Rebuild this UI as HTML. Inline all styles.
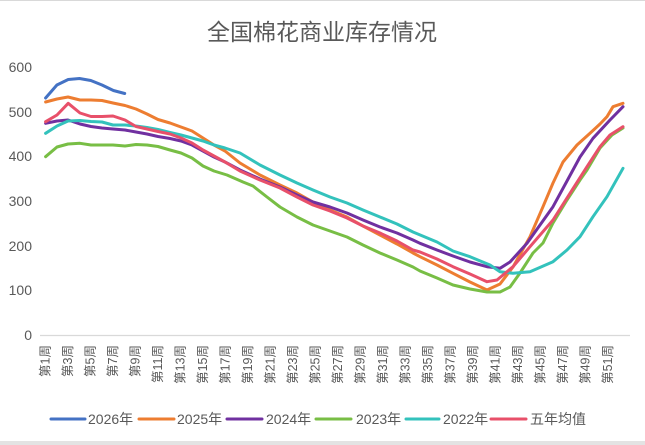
<!DOCTYPE html>
<html>
<head>
<meta charset="utf-8">
<style>
  html, body { margin:0; padding:0; background:#fff; }
  body { width:645px; height:445px; overflow:hidden; }
  svg { display:block; }
  text { font-family: "Liberation Sans", "Noto Sans CJK SC", sans-serif; fill:#595959; }
</style>
</head>
<body>
<svg width="645" height="445" viewBox="0 0 645 445" xmlns="http://www.w3.org/2000/svg">
  <rect x="0" y="0" width="645" height="445" fill="#ffffff"/>
  <line x1="0" y1="0.5" x2="645" y2="0.5" stroke="#d9d9d9" stroke-width="1"/>
  <rect x="0" y="441" width="645" height="4" fill="#e3e3e3"/>

  <!-- Title -->
  <text x="322" y="32" font-size="23" text-anchor="middle" dominant-baseline="central">全国棉花商业库存情况</text>

  <!-- Y axis labels -->
  <g font-size="14" text-anchor="end">
    <text x="32" y="67" dominant-baseline="central">600</text>
    <text x="32" y="112" dominant-baseline="central">500</text>
    <text x="32" y="156" dominant-baseline="central">400</text>
    <text x="32" y="201" dominant-baseline="central">300</text>
    <text x="32" y="246" dominant-baseline="central">200</text>
    <text x="32" y="290" dominant-baseline="central">100</text>
    <text x="32" y="335" dominant-baseline="central">0</text>
  </g>

  <!-- X axis line -->
  <line x1="40" y1="335.5" x2="630" y2="335.5" stroke="#d9d9d9" stroke-width="1.2"/>

  <!-- X labels -->
  <g font-size="12.5" text-anchor="end">
    <text transform="translate(45.5,345) rotate(-90)" dominant-baseline="central">第1周</text>
    <text transform="translate(68,345) rotate(-90)" dominant-baseline="central">第3周</text>
    <text transform="translate(90.5,345) rotate(-90)" dominant-baseline="central">第5周</text>
    <text transform="translate(113,345) rotate(-90)" dominant-baseline="central">第7周</text>
    <text transform="translate(135.5,345) rotate(-90)" dominant-baseline="central">第9周</text>
    <text transform="translate(158,345) rotate(-90)" dominant-baseline="central">第11周</text>
    <text transform="translate(180.5,345) rotate(-90)" dominant-baseline="central">第13周</text>
    <text transform="translate(203,345) rotate(-90)" dominant-baseline="central">第15周</text>
    <text transform="translate(225.5,345) rotate(-90)" dominant-baseline="central">第17周</text>
    <text transform="translate(248,345) rotate(-90)" dominant-baseline="central">第19周</text>
    <text transform="translate(270.5,345) rotate(-90)" dominant-baseline="central">第21周</text>
    <text transform="translate(293,345) rotate(-90)" dominant-baseline="central">第23周</text>
    <text transform="translate(315.5,345) rotate(-90)" dominant-baseline="central">第25周</text>
    <text transform="translate(338,345) rotate(-90)" dominant-baseline="central">第27周</text>
    <text transform="translate(360.5,345) rotate(-90)" dominant-baseline="central">第29周</text>
    <text transform="translate(383,345) rotate(-90)" dominant-baseline="central">第31周</text>
    <text transform="translate(405.5,345) rotate(-90)" dominant-baseline="central">第33周</text>
    <text transform="translate(428,345) rotate(-90)" dominant-baseline="central">第35周</text>
    <text transform="translate(450.5,345) rotate(-90)" dominant-baseline="central">第37周</text>
    <text transform="translate(473,345) rotate(-90)" dominant-baseline="central">第39周</text>
    <text transform="translate(495.5,345) rotate(-90)" dominant-baseline="central">第41周</text>
    <text transform="translate(518,345) rotate(-90)" dominant-baseline="central">第43周</text>
    <text transform="translate(540.5,345) rotate(-90)" dominant-baseline="central">第45周</text>
    <text transform="translate(563,345) rotate(-90)" dominant-baseline="central">第47周</text>
    <text transform="translate(585.5,345) rotate(-90)" dominant-baseline="central">第49周</text>
    <text transform="translate(608,345) rotate(-90)" dominant-baseline="central">第51周</text>
  </g>

  <!-- Series -->
  <g fill="none" stroke-width="3" stroke-linejoin="round" stroke-linecap="round">
    <!-- 2026 -->
    <polyline stroke="#4472C4" points="45.6,98 56.9,85 68.2,79.5 79.5,78.5 90.8,80.5 102,85 113.4,90.5 124.7,93.5"/>
    <!-- 2025 -->
    <polyline stroke="#ED7D31" points="45.6,102 57,99 68,97 80,100 91,100 102,100.5 113,103 125,105.5 136,109 147,114 158,119.5 170,123 181,127 192,131 203,138 214,145 225,151 240,163 260,175 280,185 297,193 313,202 330,210 347,217 363,226 380,235 397,244 413,253 420,256.7 437,265 453,273.3 470,282 487,290 500,284 513,267 530,236.7 543,206.7 553,183 563,162 577,145 590,133.3 600,124 607,116.7 613,106.7 623,103.3"/>
    <!-- 2024 -->
    <polyline stroke="#7030A0" points="45.6,123.3 57,121 68,120 80,124 91,126.5 102,128 113,129 125,130 136,132 147,134 158,136.5 170,138.5 181,141 192,145 203,151 214,157 225,162 240,170 260,179 280,187 297,195 313,202 330,207 347,213 363,220 380,227 397,233 413,240 420,243.3 437,250 453,256 470,262 487,266.7 500,268.3 510,262 527,243.3 540,225 553,206.7 567,181 580,157 593,138.3 610,120 623,106.7"/>
    <!-- 2023 -->
    <polyline stroke="#78BE45" points="45.6,156.7 57,147 68,144 80,143.3 91,145 102,145 113,145 125,146 136,144.5 147,145 158,146.5 170,150 181,153 192,158 203,166 214,171 227,175 243,182 253,186 267,197 280,207 297,217 313,225 330,231 347,237 363,245 380,253 397,260 413,267 420,271 437,278 453,285 470,289 487,292 500,292 510,287 520,273 533,253 543,243 553,223 567,200 580,180 587,170 600,148 612,135 623,128"/>
    <!-- 2022 -->
    <polyline stroke="#33C2BC" points="45.6,133.3 57,126 68,121 80,120.5 91,121.5 102,122 113,125 125,125 136,126 147,127.5 158,129.5 170,132.5 181,135 192,138 203,141 214,145 225,148 240,153 260,165 280,175 297,183 313,190 330,197 347,203 363,210 380,217 397,224 413,232 425,237 437,242 453,251 470,256.7 490,265 500,271.7 513,273.3 530,271.7 553,261.7 567,250 580,236.7 593,216.7 607,196.7 623,168.3"/>
    <!-- 五年均值 -->
    <polyline stroke="#E8506A" points="45.6,121.7 57,115 68.2,103.3 80,113 91,116.5 102,116.5 113,116 125,120 136,126.5 147,129 158,131.5 170,134 181,138 192,143 203,150 214,156 225,162 240,171 260,180 280,188 297,197 313,205 330,211 347,218 363,226 380,233 397,241 413,250 420,252 437,259 453,266.7 470,274 487,281.7 497,280 513,266.7 530,246.7 553,220 570,193.3 587,166.7 600,146.7 610,135 623,126.7"/>
  </g>

  <!-- Legend -->
  <g stroke-width="3" stroke-linecap="round">
    <line x1="51" y1="419" x2="85" y2="419" stroke="#4472C4"/>
    <line x1="139" y1="419" x2="174" y2="419" stroke="#ED7D31"/>
    <line x1="227" y1="419" x2="262" y2="419" stroke="#7030A0"/>
    <line x1="316" y1="419" x2="351" y2="419" stroke="#78BE45"/>
    <line x1="406" y1="419" x2="439" y2="419" stroke="#33C2BC"/>
    <line x1="491" y1="419" x2="526" y2="419" stroke="#E8506A"/>
  </g>
  <g font-size="14">
    <text x="88" y="419" dominant-baseline="central">2026年</text>
    <text x="177" y="419" dominant-baseline="central">2025年</text>
    <text x="266" y="419" dominant-baseline="central">2024年</text>
    <text x="356" y="419" dominant-baseline="central">2023年</text>
    <text x="443" y="419" dominant-baseline="central">2022年</text>
    <text x="530" y="419" dominant-baseline="central">五年均值</text>
  </g>
</svg>
</body>
</html>
